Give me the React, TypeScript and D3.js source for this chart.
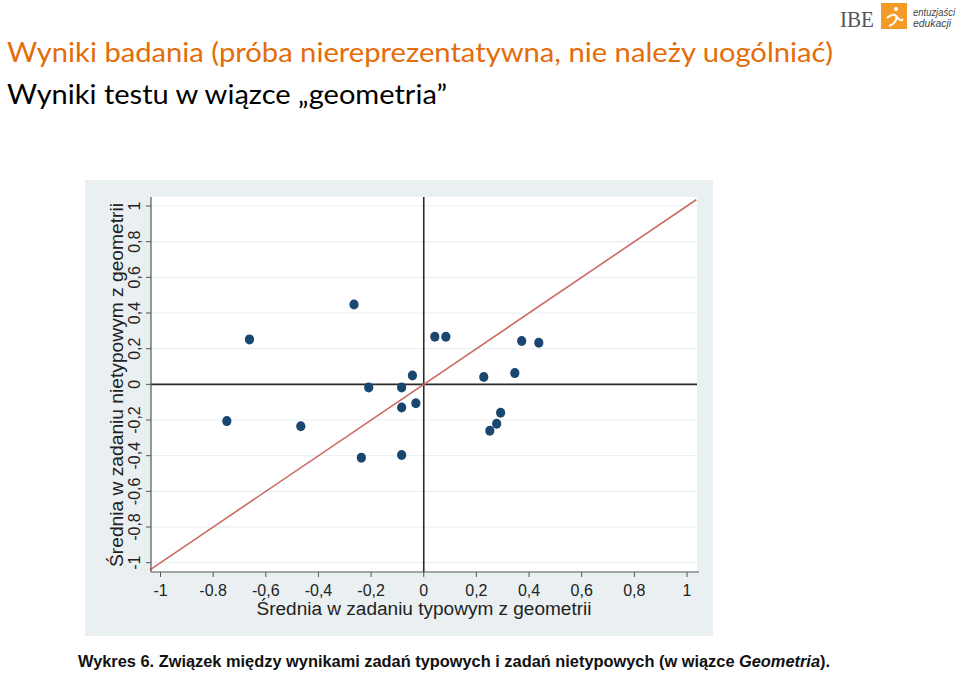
import React from "react";
import * as d3 from "d3";

const typicalScores = [-0.265, -0.662, -0.748, -0.467, -0.237, -0.209, -0.084, -0.043, -0.084, -0.030, -0.084, 0.042, 0.084, 0.228, 0.346, 0.372, 0.437, 0.292, 0.277, 0.251];
const atypicalScores = [0.448, 0.252, -0.206, -0.235, -0.411, -0.017, -0.017, 0.050, -0.130, -0.106, -0.396, 0.267, 0.267, 0.041, 0.063, 0.243, 0.233, -0.159, -0.221, -0.260];
const xTickValues = [-1, -0.8, -0.6, -0.4, -0.2, 0, 0.2, 0.4, 0.6, 0.8, 1];
const xTickLabels = ["-1", "-0.8", "-0,6", "-0,4", "-0,2", "0", "0,2", "0,4", "0,6", "0,8", "1"];
const yTickValues = [-1, -0.8, -0.6, -0.4, -0.2, 0, 0.2, 0.4, 0.6, 0.8, 1];
const yTickLabels = ["-1", "-0,8", "-0,6", "-0,4", "-0,2", "0", "0,2", "0,4", "0,6", "0,8", "1"];
const refLineEnds = [-1.04, 1.035];

const title1 = "Wyniki badania (próba niereprezentatywna, nie należy uogólniać)";
const title2 = "Wyniki testu w wiązce „geometria”";
const xTitle = "Średnia w zadaniu typowym z geometrii";
const yTitle = "Średnia w zadaniu nietypowym z geometrii";

export default function App() {
  const W = 960, H = 674;
  const plot = { left: 151, right: 697, top: 197, bottom: 572 };
  const xs = d3.scaleLinear().domain([-1, 1]).range([160.5, 687]);
  const ys = d3.scaleLinear().domain([-1, 1]).range([562.7, 206]);
  const pts = typicalScores.map((x, i) => ({ x, y: atypicalScores[i] }));
  const refLine = d3.line<number>().x((d) => xs(d)).y((d) => ys(d))(refLineEnds) || "";
  const axisFont = "'Liberation Sans', Arial, sans-serif";
  const titleFont = "Lato, 'Open Sans', sans-serif";

  return (
    <div style={{ position: "absolute", left: 0, top: 0, width: W, height: H, background: "#fff" }}>
      <svg width={W} height={H} style={{ display: "block" }}>
        <rect x={0} y={0} width={W} height={H} fill="#ffffff" />
        {/* titles */}
        <text x={7} y={62} fontFamily={titleFont} fontSize={26} fill="#E46C0A" textLength={826} lengthAdjust="spacingAndGlyphs">{title1}</text>
        <text x={7} y={104} fontFamily={titleFont} fontSize={26} fill="#000" textLength={440} lengthAdjust="spacingAndGlyphs">{title2}</text>

        {/* logo */}
        <text x={840} y={27} fontFamily="'Liberation Serif', 'DejaVu Serif', serif" fontSize={24} fill="#555" textLength={34} lengthAdjust="spacingAndGlyphs">IBE</text>
        <rect x={881} y={3} width={26} height={26} fill="#F39A27" />
        <circle cx={896} cy={9} r={2} fill="#fff" />
        <path d="M887,18 C891,14 895,14 896,16 C898,20 893,25 889,26 M896,16 C899,19 901,22 903,19" stroke="#fff" strokeWidth={2} fill="none" />
        <text x={913} y={16} fontFamily={axisFont} fontStyle="italic" fontSize={10} fill="#444" textLength={42} lengthAdjust="spacingAndGlyphs">entuzjaści</text>
        <text x={913} y={27} fontFamily={axisFont} fontStyle="italic" fontSize={10} fill="#444" textLength={38} lengthAdjust="spacingAndGlyphs">edukacji</text>

        {/* graph region */}
        <rect x={85} y={180} width={628} height={456} fill="#eaf0f2" />
        <rect x={plot.left} y={plot.top} width={plot.right - plot.left} height={plot.bottom - plot.top} fill="#ffffff" />

        {/* grid */}
        {yTickValues.map((v) => (
          <line key={"g" + v} x1={plot.left} x2={plot.right} y1={ys(v)} y2={ys(v)} stroke="#eaf0f2" strokeWidth={1.2} />
        ))}

        {/* zero lines */}
        <line x1={xs(0)} x2={xs(0)} y1={plot.top} y2={plot.bottom} stroke="#2b2b2b" strokeWidth={1.6} />
        <line x1={plot.left} x2={plot.right} y1={ys(0)} y2={ys(0)} stroke="#2b2b2b" strokeWidth={1.6} />

        {/* reference line y = x */}
        <path d={refLine} stroke="#cc6b64" strokeWidth={1.6} fill="none" />

        {/* points */}
        {pts.map((p, i) => (
          <ellipse key={i} cx={xs(p.x)} cy={ys(p.y)} rx={4.6} ry={5} fill="#1a476f" />
        ))}

        {/* axes */}
        <line x1={plot.left} x2={plot.right + 2} y1={plot.bottom} y2={plot.bottom} stroke="#555" strokeWidth={1.2} />
        <line x1={plot.left} x2={plot.left} y1={plot.top} y2={plot.bottom} stroke="#555" strokeWidth={1.2} />
        {xTickValues.map((v, i) => (
          <g key={"x" + v}>
            <line x1={xs(v)} x2={xs(v)} y1={plot.bottom} y2={plot.bottom + 5} stroke="#555" strokeWidth={1} />
            <text x={xs(v)} y={596} textAnchor="middle" fontFamily={axisFont} fontSize={16} fill="#222">{xTickLabels[i]}</text>
          </g>
        ))}
        {yTickValues.map((v, i) => (
          <g key={"y" + v}>
            <line x1={plot.left - 5} x2={plot.left} y1={ys(v)} y2={ys(v)} stroke="#555" strokeWidth={1} />
            <text transform={`translate(140,${ys(v)}) rotate(-90)`} textAnchor="middle" fontFamily={axisFont} fontSize={16} fill="#222">{yTickLabels[i]}</text>
          </g>
        ))}
        <text x={424} y={615} textAnchor="middle" fontFamily={axisFont} fontSize={18} fill="#222" textLength={335} lengthAdjust="spacingAndGlyphs">{xTitle}</text>
        <text transform={`translate(123,385) rotate(-90)`} textAnchor="middle" fontFamily={axisFont} fontSize={18} fill="#222" textLength={364} lengthAdjust="spacingAndGlyphs">{yTitle}</text>

        {/* caption */}
        <text x={78} y={667} fontFamily="'Liberation Sans Narrow', 'Arial Narrow', 'Liberation Sans', sans-serif" fontWeight="bold" fontSize={16} fill="#111" textLength={752} lengthAdjust="spacingAndGlyphs">
          Wykres 6. Związek między wynikami zadań typowych i zadań nietypowych (w wiązce <tspan fontStyle="italic">Geometria</tspan>).
        </text>
      </svg>
    </div>
  );
}
